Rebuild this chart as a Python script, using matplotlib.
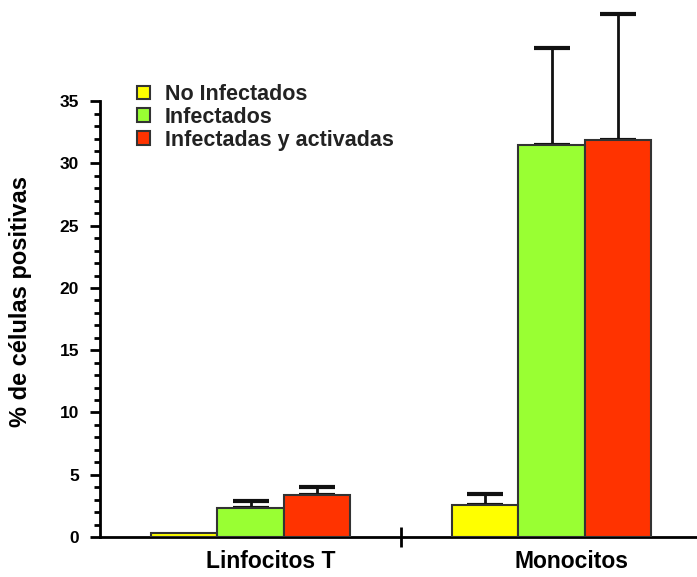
import numpy as np
import matplotlib.pyplot as plt
import matplotlib.transforms as mtransforms
from matplotlib.ticker import FixedLocator

plt.rcParams['font.family'] = ['Liberation Sans', 'DejaVu Sans']
plt.rcParams['font.weight'] = 'bold'

# data
categories = ['Linfocitos T', 'Monocitos']
series = ['No Infectados', 'Infectados', 'Infectadas y activadas']
no_infectados = [0.3, 2.6]
infectados = [2.3, 31.5]
activadas = [3.4, 31.9]
err_no_infectados = [0.0, 0.85]
err_infectados = [0.6, 7.8]
err_activadas = [0.6, 10.1]

colors = ['#ffff00', '#99ff33', '#ff3300']
values = [no_infectados, infectados, activadas]
errors = [err_no_infectados, err_infectados, err_activadas]

fig = plt.figure(figsize=(6.97, 5.77), dpi=100)
ax = fig.add_axes([0.1435, 0.0693, 0.8565, 0.928])

x = np.arange(len(categories))
width = 0.22
for i, (vals, errs, col, name) in enumerate(zip(values, errors, colors, series)):
    pos = x + (i - 1) * width
    ax.bar(pos, vals, width, color=col, edgecolor='#333333', linewidth=1.5,
           label=name, zorder=3)
    errs = np.array(errs)
    keep = errs > 0
    ax.errorbar(pos[keep], np.array(vals)[keep],
                yerr=[np.zeros(keep.sum()), errs[keep]], fmt='none',
                ecolor='#111111', elinewidth=2, capsize=13, capthick=3, zorder=2)

ax.set_xlim(-0.5, 1.483)
ax.set_ylim(0, 43.0)

ax.spines['top'].set_visible(False)
ax.spines['right'].set_visible(False)
ax.spines['left'].set_bounds(0, 35)
ax.spines['left'].set_linewidth(2)
ax.spines['bottom'].set_linewidth(2)

ax.set_yticks(np.arange(0, 36, 5))
ax.yaxis.set_minor_locator(FixedLocator(np.arange(0, 36, 1)))
ax.tick_params(axis='y', which='major', length=7, width=2, labelsize=12.5, pad=8)
ax.tick_params(axis='y', which='minor', length=4, width=2)
for lab in ax.get_yticklabels():
    lab.set_fontweight('bold')

ax.set_xticks([0.5])
ax.set_xticklabels([''])
ax.tick_params(axis='x', which='major', direction='inout', length=14, width=2)
ax.set_xticks(x, categories, minor=True)
ax.tick_params(axis='x', which='minor', length=0, labelsize=16.5, pad=9)
# category labels sit a bit right of the group centres in the original
shift = mtransforms.ScaledTranslation(20 / 100, 0, fig.dpi_scale_trans)
for lab in ax.get_xticklabels(minor=True):
    lab.set_fontweight('bold')
    lab.set_transform(lab.get_transform() + shift)

ax.set_ylabel('% de células positivas', fontsize=17, fontweight='bold')
ax.yaxis.set_label_coords(-0.114, 0.44)

leg = ax.legend(loc='upper left', bbox_to_anchor=(0.047, 0.862), frameon=False,
                fontsize=15.5, handlelength=0.6, handleheight=0.6,
                handletextpad=0.7, labelspacing=0.08, borderaxespad=0)
for t in leg.get_texts():
    t.set_color('#222222')
    t.set_fontweight('bold')

fig.savefig('out.png', dpi=100)
plt.close(fig)
